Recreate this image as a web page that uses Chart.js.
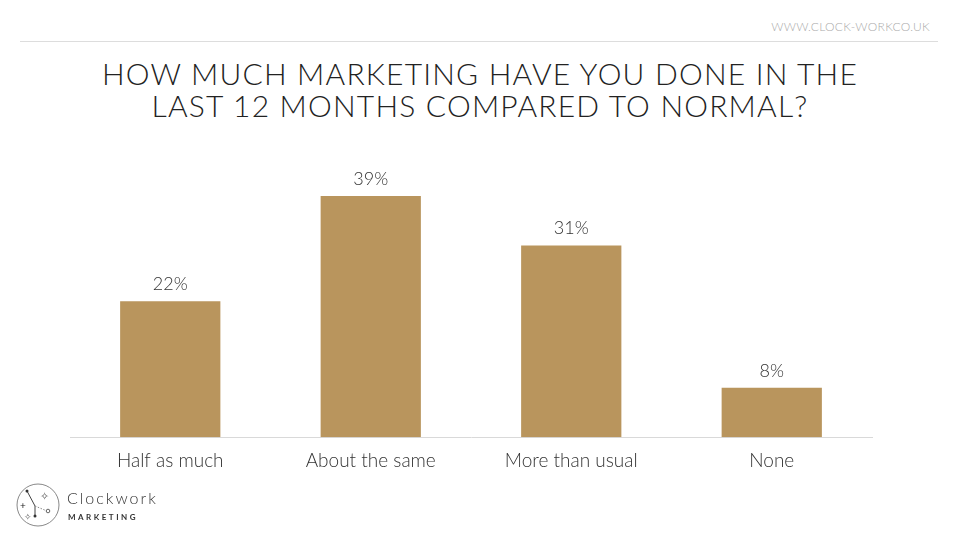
<!DOCTYPE html>
<html>
<head>
<meta charset="utf-8">
<script src="https://cdn.jsdelivr.net/npm/chart.js@4"></script>
<style>
  body { margin: 0; width: 960px; height: 540px; background: #fff; overflow: hidden; font-family: "Lato", sans-serif; }
  .site { position: absolute; right: 30px; top: 19px; font-size: 12px; color: #aaa; letter-spacing: 0.3px; font-weight: 300; }
  .rule { position: absolute; left: 20px; top: 41px; width: 918px; height: 1px; background: #ddd; }
  .title { position: absolute; left: 0; top: 57px; width: 960px; text-align: center; font-size: 30px; line-height: 32px; font-weight: 300; color: #222; letter-spacing: 1.2px; }
  #wrap { position: absolute; left: 0; top: 0; width: 960px; height: 540px; }
  .logo { position: absolute; left: 15px; top: 482px; }
  .logo .name { position: absolute; left: 52px; top: 6px; font-size: 16px; letter-spacing: 2px; color: #333; font-weight: 300; }
  .logo .sub { position: absolute; left: 53px; top: 30px; font-size: 8px; letter-spacing: 2.5px; color: #333; font-weight: 700; }
</style>
</head>
<body>
<div class="site">WWW.CLOCK-WORKCO.UK</div>
<div class="rule"></div>
<div class="title">HOW MUCH MARKETING HAVE YOU DONE IN THE<br>LAST 12 MONTHS COMPARED TO NORMAL?</div>
<div id="wrap"><canvas id="myChart"></canvas></div>
<div class="logo">
  <svg width="46" height="46" viewBox="0 0 46 46">
    <circle cx="23" cy="23" r="21" fill="none" stroke="#888" stroke-width="1"/>
    <polyline points="12,9 20,24 20,34" fill="none" stroke="#444" stroke-width="1"/>
    <line x1="20" y1="24" x2="32" y2="29" stroke="#888" stroke-dasharray="1.5,1.5"/>
    <circle cx="33" cy="29" r="1.8" fill="none" stroke="#666"/>
    <circle cx="12" cy="9" r="1.5" fill="#333"/><circle cx="20" cy="34" r="1.5" fill="#333"/>
    <text x="25" y="18" font-size="11" fill="#555">✧</text>
    <text x="5" y="27" font-size="10" fill="#222">+</text>
    <text x="9" y="38" font-size="9" fill="#555">✧</text>
  </svg>
  <div class="name">Clockwork</div>
  <div class="sub">MARKETING</div>
</div>
<script>
const categories = ["Half as much", "About the same", "More than usual", "None"];
const values = [22, 39, 31, 8];

const valueLabels = {
  id: "valueLabels",
  afterDatasetsDraw(chart) {
    const ctx = chart.ctx;
    const meta = chart.getDatasetMeta(0);
    ctx.save();
    ctx.font = "300 18px Lato";
    ctx.fillStyle = "#333";
    ctx.textAlign = "center";
    ctx.textBaseline = "bottom";
    meta.data.forEach((bar, i) => {
      ctx.fillText(values[i] + "%", bar.x, bar.y - 8);
    });
    ctx.restore();
  },
};

new Chart(document.querySelector("#myChart"), {
  type: "bar",
  data: {
    labels: categories,
    datasets: [
      {
        data: values,
        backgroundColor: "#b9955d",
        barPercentage: 0.5,
        categoryPercentage: 1,
      },
    ],
  },
  options: {
    responsive: true,
    maintainAspectRatio: false,
    animation: false,
    layout: { padding: { left: 70, right: 88, top: 159, bottom: 56 } },
    plugins: { legend: { display: false }, tooltip: { enabled: false } },
    scales: {
      y: { display: false, min: 0, max: 45 },
      x: {
        grid: { display: false, drawTicks: false },
        border: { color: "#d9d9d9" },
        ticks: { color: "#333", font: { family: "Lato", size: 19, weight: 300 }, padding: 12 },
      },
    },
  },
  plugins: [valueLabels],
});
</script>
</body>
</html>
